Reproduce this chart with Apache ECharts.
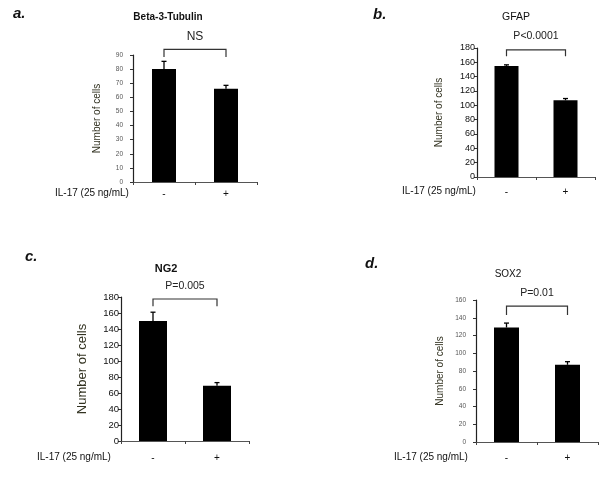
<!DOCTYPE html>
<html>
<head>
<meta charset="utf-8">
<script src="https://cdn.jsdelivr.net/npm/echarts@6/dist/echarts.min.js"></script>
<style>html,body{margin:0;padding:0;background:#fff}#c{width:600px;height:481px}</style>
</head>
<body>
<div id="c"></div>
<script>
// ---- data ----
const categories = ['-', '+'];
const panelLetters = ['a.', 'b.', 'c.', 'd.'];
const panelTitles = ['Beta-3-Tubulin', 'GFAP', 'NG2', 'SOX2'];
const tubulinMean = [80, 66];
const tubulinErr = [5.5, 2.5];
const gfapMean = [155, 107];
const gfapErr = [1.5, 2.5];
const ng2Mean = [150, 69];
const ng2Err = [11, 4];
const sox2Mean = [129, 87];
const sox2Err = [5, 3.5];
const yMax = [90, 180, 180, 160];
const yInterval = [10, 20, 20, 20];
const pLabels = ['NS', 'P<0.0001', 'P=0.005', 'P=0.01'];
const bracketTop = [94, 177.5, 177.5, 153];
const bracketLeg = [88.5, 168.5, 168.5, 143];
const pLabelY = [103, 196, 193, 167.5];
const xLabelText = 'IL-17 (25 ng/mL)';

const means = [tubulinMean, gfapMean, ng2Mean, sox2Mean];
const errs = [tubulinErr, gfapErr, ng2Err, sox2Err];

const FONT = '"Liberation Sans", Arial, sans-serif';

// ---- layout ----
const grids = [
  {left: 133, top: 55, width: 124, height: 127},
  {left: 477, top: 48, width: 118, height: 129},
  {left: 121, top: 297, width: 128, height: 144},
  {left: 476, top: 300, width: 122, height: 142}
];
const barW = [24, 24, 28, 25];
const yLabelStyle = [
  {fontSize: 6.5, color: '#555', margin: 10},
  {fontSize: 9, color: '#111', margin: 2},
  {fontSize: 9.5, color: '#111', margin: 2},
  {fontSize: 6.5, color: '#555', margin: 10}
];
const yNameGap = [31, 33, 32, 31];
const yNameSize = [10, 10, 13, 10];
const xLabelMargin = [7, 10, 12, 11];
const titlePos = [[168, 18, true, 10], [516, 18, false, 10.5], [166, 270, true, 11], [508, 275, false, 10]];
const letterPos = [[13, 15], [373, 16], [25, 258], [365, 265]];
const ilPos = [[55, 194], [402, 192], [37, 458], [394, 458]];

const option = {
  animation: false,
  backgroundColor: '#fff',
  title: [],
  grid: grids.map(g => Object.assign({containLabel: false}, g)),
  xAxis: [],
  yAxis: [],
  series: [],
  graphic: []
};

for (let i = 0; i < 4; i++) {
  option.title.push({
    text: panelTitles[i], left: titlePos[i][0], top: titlePos[i][1] - titlePos[i][3] * 0.6,
    textAlign: 'center', padding: 0,
    textStyle: {fontFamily: FONT, fontSize: titlePos[i][3], fontWeight: titlePos[i][2] ? 'bold' : 'normal', color: '#111'}
  });
  option.title.push({
    text: panelLetters[i], left: letterPos[i][0], top: letterPos[i][1] - 9, padding: 0,
    textStyle: {fontFamily: FONT, fontSize: 15, fontWeight: 'bold', fontStyle: 'italic', color: '#111'}
  });
  option.graphic.push({
    type: 'text', left: ilPos[i][0], top: ilPos[i][1] - 6,
    style: {text: xLabelText, font: '10px ' + FONT, fill: '#111'}
  });
  option.xAxis.push({
    type: 'category', gridIndex: i, data: categories,
    axisLine: {show: true, lineStyle: {color: '#555', width: 1}},
    axisTick: {show: true, inside: false, length: 3, lineStyle: {color: '#444'}},
    axisLabel: {fontFamily: FONT, fontSize: 10, color: '#111', margin: xLabelMargin[i]},
    splitLine: {show: false}
  });
  option.yAxis.push({
    type: 'value', gridIndex: i, min: 0, max: yMax[i], interval: yInterval[i],
    name: 'Number of cells', nameLocation: 'middle', nameGap: yNameGap[i],
    nameTextStyle: {fontFamily: FONT, fontSize: yNameSize[i], color: '#332'},
    axisLine: {show: true, lineStyle: {color: '#222', width: 1.2}},
    axisTick: {show: true, length: 3, lineStyle: {color: '#333'}},
    axisLabel: {fontFamily: FONT, fontSize: yLabelStyle[i].fontSize, color: yLabelStyle[i].color, margin: yLabelStyle[i].margin},
    splitLine: {show: false}
  });
  option.series.push({
    type: 'bar', xAxisIndex: i, yAxisIndex: i, data: means[i], barWidth: barW[i],
    itemStyle: {color: '#000'}
  });
  option.series.push({
    type: 'custom', xAxisIndex: i, yAxisIndex: i, clip: false, z: 5,
    data: means[i].map((v, k) => [k, v, errs[i][k]]),
    renderItem: function (params, api) {
      const x = api.value(0), v = api.value(1), e = api.value(2);
      const b = api.coord([x, v]);
      const t = api.coord([x, v + e]);
      const cap = 2.5;
      return {type: 'group', children: [
        {type: 'line', shape: {x1: b[0], y1: b[1], x2: t[0], y2: t[1]}, style: {stroke: '#000', lineWidth: 1.3}},
        {type: 'line', shape: {x1: t[0] - cap, y1: t[1], x2: t[0] + cap, y2: t[1]}, style: {stroke: '#000', lineWidth: 1.3}}
      ]};
    }
  });
  const idx = i;
  option.series.push({
    type: 'custom', xAxisIndex: i, yAxisIndex: i, clip: false, z: 5,
    data: [[0, bracketTop[i], bracketLeg[i], pLabelY[i]]],
    renderItem: function (params, api) {
      const top = api.value(1), leg = api.value(2), ly = api.value(3);
      const l1 = api.coord([0, leg]), l2 = api.coord([0, top]);
      const r2 = api.coord([1, top]), r1 = api.coord([1, leg]);
      const lp = api.coord([0, ly]);
      const mid = (l2[0] + r2[0]) / 2;
      return {type: 'group', children: [
        {type: 'polyline', shape: {points: [l1, l2, r2, r1]}, style: {stroke: '#333', lineWidth: 1.2, fill: null}},
        {type: 'text', style: {text: pLabels[idx], x: mid, y: lp[1], align: 'center', verticalAlign: 'middle',
          font: (idx === 0 ? 12 : 10.5) + 'px ' + FONT, fill: '#222'}}
      ]};
    }
  });
}

const chart = echarts.init(document.getElementById('c'), null, {renderer: 'canvas'});
chart.setOption(option);
</script>
</body>
</html>
